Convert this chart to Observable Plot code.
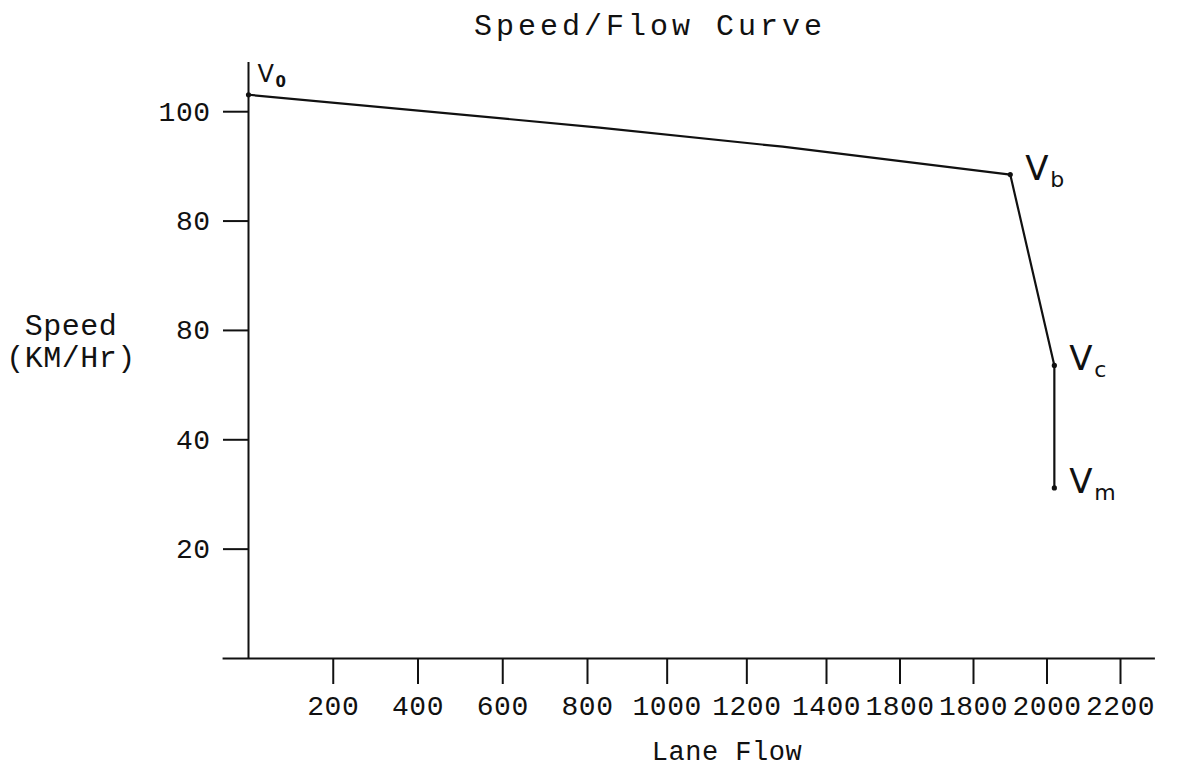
<!DOCTYPE html>
<html>
<head>
<meta charset="utf-8">
<script src="https://cdn.jsdelivr.net/npm/d3@7"></script>
<script src="https://cdn.jsdelivr.net/npm/@observablehq/plot@0.6"></script>
<style>
  html, body { margin: 0; padding: 0; background: #fff; }
  #wrap { position: relative; width: 1179px; height: 772px; overflow: hidden; }
  .lbl { position: absolute; font-family: "Liberation Mono", "Courier New", monospace; color: #111; line-height: 1; white-space: nowrap; text-align: center; }
  #title { top: 12px; left: 350px; width: 600px; font-size: 30px; letter-spacing: 4px; }
  #xlabel { top: 741px; left: 577px; width: 300px; font-size: 27px; letter-spacing: 0.5px; line-height: 24px; }
  #ylabel { top: 311px; left: -4px; width: 150px; font-size: 30px; letter-spacing: 0.5px; line-height: 32px; }
  #chart { position: absolute; left: 0; top: 0; }
</style>
</head>
<body>
<div id="wrap">
  <div id="chart"></div>
  <div class="lbl" id="title">Speed/Flow Curve</div>
  <div class="lbl" id="ylabel">Speed<br>(KM/Hr)</div>
  <div class="lbl" id="xlabel">Lane Flow</div>
</div>
<script>
// ---- data ----
const curveFlow  = [0,     830,  1290, 1900, 2020, 2020];
const curveSpeed = [103.1, 97.1, 93.6, 88.5, 53.6, 31.2];

const pointNames = ["0", "b", "c", "m"];
const pointFlow  = [0, 1900, 2020, 2020];
const pointSpeed = [103.1, 88.5, 53.6, 31.2];

const xTicks      = [200, 400, 600, 800, 1000, 1200, 1400, 1600, 1800, 2000, 2200];
const xTickLabels = ["200","400","600","800","1000","1200","1400","1800","1800","2000","2200"];
const yTicks      = [20, 40, 60, 80, 100];
const yTickLabels = ["20","40","80","80","100"];

// ---- tables built from arrays ----
const curve  = curveFlow.map((f, i) => ({flow: f, speed: curveSpeed[i]}));
const points = pointNames.map((n, i) => ({name: n, flow: pointFlow[i], speed: pointSpeed[i]}));
const pV0 = points.filter(d => d.name === "0");
const pRest = points.filter(d => d.name !== "0");

const W = 1179, H = 772;
const mono = "Liberation Mono, Courier New, monospace";
const hand = "DejaVu Sans, Liberation Sans, sans-serif";

const chart = Plot.plot({
  width: W,
  height: H,
  marginLeft: 248,
  marginRight: 59,
  marginTop: 62,
  marginBottom: 114,
  style: {fontFamily: mono, fontSize: "28px", letterSpacing: "0.5px", color: "#111", background: "transparent"},
  x: {type: "linear", domain: [0, 800, 1400, 2200], range: [248, 587, 826, 1120]},
  y: {type: "linear", domain: [0, 109]},
  marks: [
    // axis lines
    Plot.ruleY([0], {x1: -60, x2: 2295, stroke: "#111", strokeWidth: 2}),
    Plot.ruleX([0], {y1: 0, y2: 109, stroke: "#111", strokeWidth: 2}),
    Plot.axisX(xTicks, {
      tickFormat: d => xTickLabels[xTicks.indexOf(d)],
      tickSize: 26, tickPadding: 11, strokeWidth: 2, label: null
    }),
    Plot.axisY(yTicks, {
      tickFormat: d => yTickLabels[yTicks.indexOf(d)],
      tickSize: 25, tickPadding: 13, strokeWidth: 2, label: null
    }),
    // curve
    Plot.line(curve, {x: "flow", y: "speed", stroke: "#111", strokeWidth: 2.2, curve: "linear"}),
    Plot.dot(points, {x: "flow", y: "speed", r: 2.6, fill: "#111", stroke: "none"}),
    // labels V0
    Plot.text(pV0, {x: "flow", y: "speed", text: () => "V", textAnchor: "start", lineAnchor: "bottom",
      dx: 9, dy: -13, fontSize: 24, fontFamily: hand, fill: "#111"}),
    Plot.text(pV0, {x: "flow", y: "speed", text: "name", textAnchor: "start", lineAnchor: "bottom",
      dx: 27, dy: -8, fontSize: 15, fontFamily: hand, fontWeight: "bold", fill: "#111"}),
    // labels Vb, Vc, Vm
    Plot.text(pRest, {x: "flow", y: "speed", text: () => "V", textAnchor: "start", lineAnchor: "bottom",
      dx: 15, dy: 5, fontSize: 34, fontFamily: hand, fill: "#111"}),
    Plot.text(pRest, {x: "flow", y: "speed", text: "name", textAnchor: "start", lineAnchor: "bottom",
      dx: 40, dy: 12, fontSize: 22, fontFamily: hand, fill: "#111"})
  ]
});
document.getElementById("chart").appendChild(chart);
</script>
</body>
</html>
